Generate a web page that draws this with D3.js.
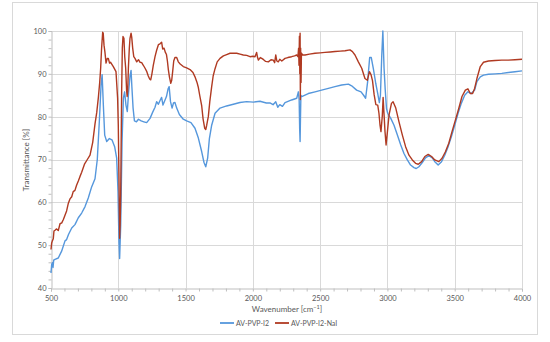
<!DOCTYPE html>
<html><head><meta charset="utf-8">
<script src="https://cdn.jsdelivr.net/npm/d3@7"></script>
<style>html,body{margin:0;padding:0;background:#fff;}svg{display:block;font-family:Lato,"Open Sans",sans-serif;}</style>
</head><body>
<svg id="chart" width="550" height="342"></svg>
<script>
// ---- data ----
const seriesNames = ["AV-PVP-I2", "AV-PVP-I2-NaI"];
const xTicks = [500,1000,1500,2000,2500,3000,3500,4000];
const yTicks = [40,50,60,70,80,90,100];

const wnBlue = [500,505,510,515,520,530,554,579,604,616,630,654,678,703,728,753,777,802,827,844,859,872,880,889,899,914,934,953,973,988,998,1005,1010,1018,1028,1038,1047,1057,1067,1077,1087,1095,1101,1110,1120,1135,1150,1170,1190,1211,1236,1255,1273,1285,1298,1312,1322,1332,1345,1358,1370,1378,1388,1400,1410,1421,1434,1454,1483,1508,1540,1570,1595,1620,1637,1650,1664,1677,1694,1719,1756,1805,1855,1904,1954,2004,2053,2100,2127,2150,2170,2185,2200,2220,2239,2288,2326,2338,2344,2348,2351,2354,2357,2363,2412,2462,2511,2561,2610,2660,2710,2734,2771,2804,2823,2838,2853,2868,2880,2895,2913,2928,2940,2948,2958,2966,2975,2983,2993,3002,3025,3049,3074,3099,3123,3148,3172,3197,3214,3234,3259,3283,3308,3333,3352,3377,3402,3426,3451,3475,3500,3525,3549,3574,3598,3623,3648,3665,3690,3714,3751,3800,3850,3899,3948,4000];
const tBlue = [43.5,45.5,45.9,44.8,46.5,46.7,47,48.6,51,51.3,52.5,54,54.8,56.4,57.5,59,61,63.6,65.5,70,78.8,87.4,89.8,82.7,75.7,74.2,74.9,74.6,73,70.3,62.5,50.8,46.9,54.7,74.2,84.3,85.8,82.7,81.2,85.8,89.5,90.8,87,82,79,78.8,79.4,79,78.8,78.6,79.6,81,82.2,83.5,82.9,83.9,84.5,82.7,83.7,84.7,86.5,87,83.5,82,83.2,83.3,82,80.5,79.4,79,78.6,77.3,75,71.8,69.3,68.3,70.3,74.9,78,80.8,82,82.5,82.9,83.3,83.5,83.4,83.6,83.2,83.2,82.8,83.5,82.2,82.8,82.4,83.3,83.9,84.3,85.8,84,77,74.2,80,85,84.7,85.4,85.8,86.2,86.6,87,87.4,87.6,87.2,86.2,85.8,85,84.3,88.2,93.8,93.8,91.3,87.8,85.4,83.3,85,94.4,100,91.3,86.6,81.9,80.8,79.6,78,75.7,73.4,71.4,69.9,68.7,68.1,67.9,68.3,69.3,70.4,70.9,70.4,69.5,68.7,69.5,71,73,75.3,78,80.8,83.1,85,85.8,85.4,86.2,88.2,89.3,89.7,89.9,90,90.1,90.3,90.5,90.7];

const wnRed = [500,505,510,517,522,530,540,554,567,580,592,604,616,629,641,654,665,678,690,703,715,728,750,770,790,810,827,840,852,862,869,876,884,888,894,901,909,918,926,935,943,963,983,995,1000,1005,1010,1014,1018,1025,1030,1035,1042,1048,1055,1062,1066,1070,1075,1082,1087,1095,1100,1107,1115,1124,1137,1150,1162,1174,1186,1199,1212,1223,1233,1241,1250,1260,1273,1285,1298,1310,1322,1330,1340,1350,1358,1365,1372,1380,1390,1397,1404,1412,1421,1434,1446,1460,1483,1508,1533,1555,1570,1585,1595,1605,1620,1630,1642,1650,1657,1669,1680,1694,1705,1719,1735,1756,1781,1805,1830,1855,1880,1905,1929,1954,1979,2000,2016,2028,2035,2041,2055,2066,2080,2095,2115,2135,2152,2162,2170,2178,2189,2200,2215,2239,2260,2288,2310,2326,2335,2340,2343,2346,2349,2351,2353,2355,2358,2361,2370,2388,2420,2462,2500,2536,2575,2610,2650,2685,2722,2740,2759,2784,2809,2833,2851,2866,2878,2889,2901,2914,2928,2937,2945,2952,2962,2968,2974,2982,2990,3000,3012,3030,3042,3062,3086,3111,3135,3160,3185,3209,3229,3254,3278,3303,3328,3352,3382,3406,3431,3456,3480,3505,3530,3554,3579,3598,3616,3633,3648,3665,3690,3714,3751,3800,3850,3899,3948,4000];
const tRed = [49,50.5,51,51.5,53.3,53.5,53.8,53.4,55,55.2,56,57,58,59.8,60.8,61.3,62.5,62.8,64,65,66,67,69,70,71,74,78.3,81,84.5,88,91.3,96,99.7,99.5,96.7,95,92.5,93.6,93.6,92.5,92.7,91.7,90.5,84.3,78,66,51.6,55,62,85.8,96,98.7,98.3,94,91.3,86,84.7,86,91.3,96,98.3,99.5,98.5,96,94,93.6,92.8,93.3,92.7,92.6,92,91.3,90.5,89.5,88.8,88.6,90,92,94,95.5,96.8,97,97.4,95.8,96,95,94.5,93,91,89.3,87.8,88.5,90.5,93,93.8,93.8,92.8,92.3,91.7,91.4,91,90.3,89.3,88,86.8,85,82.5,79.5,77.3,77,78,80,83.5,87,89.5,91.2,92.8,93.6,94.2,94.5,94.8,94.8,94.8,94.6,94.4,94.3,94,94.1,94,95,93.8,93.2,93.8,93.6,93.3,92.9,92.8,93.3,93.2,92.6,94.4,93,92.8,93.4,93,93.6,93.8,94,94.2,94.4,94,96,92,98.8,90,99.5,84,96,88,94.8,94.4,94.4,94.6,94.8,94.9,95,95.1,95.2,95.3,95.4,95.6,95.2,94.4,92.8,91.3,88.9,88.5,90.5,89.8,88.4,85.2,82.8,82.7,80.8,78,76.5,80.2,84.5,81,76.5,73.4,76.5,80.4,83.1,83.5,82,78.8,75.7,73,71,69.9,69.1,68.9,69.5,70.7,71.2,70.7,69.9,69.5,70.3,71.8,73.8,76.5,79.2,81.9,84.7,86.2,86.5,85.4,85.4,86.6,88.9,91.7,92.7,93,93.1,93.2,93.2,93.3,93.4];

const colors = ["#5597dc", "#b03a22"];

// ---- chart ----
const svg = d3.select("#chart");
const x = d3.scaleLinear().domain([500, 4000]).range([51, 522]);
const y = d3.scaleLinear().domain([40, 100]).range([288, 31]);

// outer border
svg.append("rect").attr("x", 12.5).attr("y", 2.5).attr("width", 525).attr("height", 332)
  .attr("fill", "none").attr("stroke", "#d9d9d9").attr("stroke-width", 1);

// gridlines
const grid = svg.append("g");
grid.selectAll(".gx").data(xTicks.slice(1)).enter().append("line")
  .attr("x1", d => Math.round(x(d)) + 0.5).attr("x2", d => Math.round(x(d)) + 0.5)
  .attr("y1", y(100)).attr("y2", y(40))
  .attr("stroke", "#d9d9d9").attr("stroke-width", 1);
grid.selectAll(".gy").data(yTicks.slice(1)).enter().append("line")
  .attr("y1", d => Math.round(y(d)) + 0.5).attr("y2", d => Math.round(y(d)) + 0.5)
  .attr("x1", x(500)).attr("x2", x(4000))
  .attr("stroke", "#d9d9d9").attr("stroke-width", 1);

// axes
const xAxis = d3.axisBottom(x).tickValues(d3.range(500, 4001, 100)).tickSize(3)
  .tickFormat(d => xTicks.includes(d) ? d : "");
const gx = svg.append("g").attr("transform", `translate(0,${Math.round(y(40)) + 0.5})`).call(xAxis);
const yAxis = d3.axisLeft(y).tickValues(d3.range(40, 100.1, 2)).tickSize(3)
  .tickFormat(d => yTicks.includes(d) ? d : "");
const gy = svg.append("g").attr("transform", `translate(${Math.round(x(500)) + 0.5},0)`).call(yAxis);
[gx, gy].forEach(g => {
  g.select(".domain").attr("stroke", "#bfbfbf");
  g.selectAll(".tick line").attr("stroke", "#bfbfbf");
  g.selectAll(".tick text").attr("fill", "#595959").attr("font-size", "7.5px")
    .attr("font-family", "Lato, 'Open Sans', sans-serif");
});
gx.selectAll(".tick text").attr("dy", "0.71em").attr("y", 7);
gy.selectAll(".tick text").attr("x", -5);

// lines
const line = d3.line().x(d => x(d[0])).y(d => y(d[1]));
const blueData = wnBlue.map((w, i) => [w, tBlue[i]]);
const redData = wnRed.map((w, i) => [w, tRed[i]]);
svg.append("path").datum(blueData).attr("d", line).attr("fill", "none")
  .attr("stroke", colors[0]).attr("stroke-width", 1.4).attr("stroke-linejoin", "round");
svg.append("path").datum(redData).attr("d", line).attr("fill", "none")
  .attr("stroke", colors[1]).attr("stroke-width", 1.4).attr("stroke-linejoin", "round");

// axis titles
svg.append("text").attr("x", 287).attr("y", 312).attr("text-anchor", "middle")
  .attr("font-size", "8px").attr("fill", "#595959")
  .html('Wavenumber [cm<tspan dy="-3" font-size="5.5px">−1</tspan><tspan dy="3">]</tspan>');
svg.append("text").attr("transform", "translate(29,160) rotate(-90)").attr("text-anchor", "middle")
  .attr("font-size", "8px").attr("fill", "#595959").text("Transmittance [%]");

// legend
const legend = svg.append("g");
const legX = [220, 275];
seriesNames.forEach((name, i) => {
  legend.append("line").attr("x1", legX[i]).attr("x2", legX[i] + 14).attr("y1", 323).attr("y2", 323)
    .attr("stroke", colors[i]).attr("stroke-width", 1.8);
  legend.append("text").attr("x", legX[i] + 16).attr("y", 325.5).attr("font-size", "7px")
    .attr("fill", "#595959").text(name);
});
</script>
</body></html>
